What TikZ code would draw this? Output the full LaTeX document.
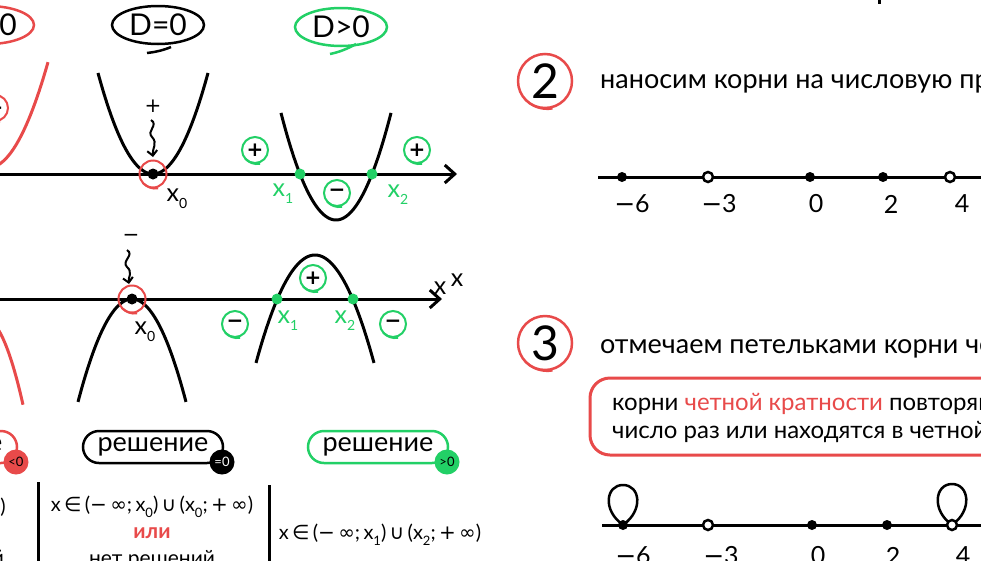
\documentclass[tikz,border=0pt]{standalone}
\usepackage{fontspec}
\setmainfont{Lato}
\newfontfamily\sym{DejaVu Sans}
\usetikzlibrary{arrows.meta,shapes.misc,shapes.geometric}
\definecolor{rd}{RGB}{232,74,74}
\definecolor{gn}{RGB}{34,208,102}
\newcommand\fs[1]{\fontsize{#1}{#1}\selectfont}
\newcommand\mysub[1]{\raisebox{-0.28em}{\fontsize{14}{14}\selectfont #1}}
\newcommand\isub[1]{\raisebox{-0.28em}{\fontsize{13}{13}\selectfont #1}}
\newcommand\tailof[3]{\draw[#3,line width=2pt] (#1.center) ++(140:#2) arc[start angle=140,end angle=80,radius=#2+3];}
\begin{document}
\begin{tikzpicture}[x=1pt,y=-1pt,
  axis/.style={line width=3pt,-{Straight Barb[length=10pt,width=18pt]}},
  crv/.style={line width=3pt},
  nline/.style={line width=3pt},
  bdot/.style={circle,fill=black,inner sep=0pt,minimum size=11pt},
  gdot/.style={circle,fill=gn,inner sep=0pt,minimum size=11pt},
  sdot/.style={circle,fill=black,inner sep=0pt,minimum size=10pt},
  odot/.style={circle,draw=black,fill=white,line width=2.5pt,inner sep=0pt,minimum size=10pt},
  sgn/.style={circle,draw,line width=2pt,minimum size=26pt,inner sep=0pt,font=\sym\bfseries\fs{20}},
  ring/.style={circle,draw=rd,line width=2pt,minimum size=27pt,inner sep=0pt},
  lbl/.style={inner sep=0pt,font=\fs{25}},
  dlab/.style={ellipse,line width=2.5pt,minimum width=92pt,minimum height=38pt,inner sep=0pt,font=\fs{30}},
  numc/.style={circle,draw=rd,line width=2.5pt,minimum size=54pt,inner sep=0pt,font=\fs{48}},
  head/.style={anchor=base west,inner sep=0pt,font=\fs{27}},
  btxt/.style={anchor=base west,inner sep=0pt,font=\fs{24}},
  nlab/.style={inner sep=0pt,font=\fs{25}},
  pill/.style={rounded rectangle,line width=2.5pt,minimum width=140pt,minimum height=32pt,inner sep=0pt,font=\fs{27}},
  badge/.style={circle,minimum size=25pt,inner sep=0pt,font=\fs{13}},
  ivl/.style={inner sep=0pt,font=\fs{20}},
  sep/.style={line width=3pt},
  wavy/.style={line width=2pt,-{Straight Barb[length=5pt,width=10pt]}},
  loopst/.style={line width=2.5pt}
]
\useasboundingbox (0,0) rectangle (981,560);
\fill[white] (0,0) rectangle (981,560);
\begin{scope}
\clip (0,0) rectangle (981,560);

% ---------- D labels ----------
\node[dlab,draw=rd] (dneg) at (-12,25) {D<0};
\node[dlab,draw=black] (dzero) at (158,25) {D=0};
\draw[line width=2.5pt] (147,53) .. controls (156,52) and (164,50) .. (171,47);
\node[dlab,draw=gn] (dpos) at (341,27) {D>0};
\draw[gn,line width=2.5pt] (330,54) .. controls (340,52) and (349,48) .. (356,44);

% ---------- upper axis ----------
\coordinate (a1s) at (-5,174);
\coordinate (a1e) at (457,174);
\draw[axis] (a1s) -- (a1e);

% red parabola (D<0, up)
\draw[rd,crv] plot[domain=-80:48,samples=60] (\x,{168-0.0294*(\x+12)*(\x+12)});
\node[sgn,draw=rd] (rp1) at (-5,108) {+};
\tailof{rp1}{13}{rd}

% black parabola (D=0, up)
\draw[crv] plot[domain=98:208,samples=60] (\x,{174-0.0334*(\x-153)*(\x-153)});
\node[ring] (rc1) at (153,174) {};
\tailof{rc1}{13.5}{rd}
\node[bdot] (x0u) at (153,174) {};
\node[lbl] (x0ul) at (177,199) {x\mysub{0}};
\node[inner sep=0pt,font=\sym\fs{20}] (plus1) at (153,106) {+};
\coordinate (w1s) at (151,120);
\coordinate (w1e) at (153,157);
\draw[wavy] (w1s) .. controls (159,125) and (146,131) .. (152,137) .. controls (158,143) and (152,149) .. (w1e);

% green parabola (D>0, up)
\draw[crv] plot[domain=281:391,samples=60] (\x,{220-0.0354*(\x-336)*(\x-336)});
\node[gdot] (x1u) at (300,174) {};
\node[gdot] (x2u) at (372,174) {};
\node[lbl,text=gn] (x1ul) at (283,194) {x\mysub{1}};
\node[lbl,text=gn] (x2ul) at (398,195) {x\mysub{2}};
\node[sgn,draw=gn] (gp1) at (255,150) {+};
\tailof{gp1}{13}{gn}
\node[sgn,draw=gn] (gp2) at (417,150) {+};
\tailof{gp2}{13}{gn}
\node[sgn,draw=gn] (gm1) at (337,193) {−};
\tailof{gm1}{13}{gn}

% ---------- lower axis ----------
\coordinate (a2s) at (-5,299);
\coordinate (a2e) at (442,299);
\draw[axis] (a2s) -- (a2e);
\node[lbl] (xa) at (440,288) {x};
\node[lbl] (xb) at (457,280) {x};

% red parabola (D<0, down)
\draw[rd,crv] plot[domain=-60:23,samples=60] (\x,{318+0.057*(\x+16)*(\x+16)});

% black parabola (D=0, down)
\draw[crv] plot[domain=78:186,samples=60] (\x,{299+0.0353*(\x-132)*(\x-132)});
\node[ring] (rc2) at (132,299) {};
\tailof{rc2}{13.5}{rd}
\node[bdot] (x0d) at (132,299) {};
\node[lbl] (x0dl) at (145,332) {x\mysub{0}};
\node[inner sep=0pt,font=\sym\fs{20}] (minus1) at (131,238) {−};
\coordinate (w2s) at (127,250);
\coordinate (w2e) at (129,284);
\draw[wavy] (w2s) .. controls (135,255) and (121,261) .. (127,267) .. controls (133,272) and (128,278) .. (w2e);

% green parabola (D>0, down)
\draw[crv] plot[domain=256:374,samples=60] (\x,{255+0.031*(\x-315)*(\x-315)});
\node[gdot] (x1d) at (277,299) {};
\node[gdot] (x2d) at (353,299) {};
\node[lbl,text=gn] (x1dl) at (288,321) {x\mysub{1}};
\node[lbl,text=gn] (x2dl) at (345,321) {x\mysub{2}};
\node[sgn,draw=gn] (gp3) at (313,278) {+};
\tailof{gp3}{13}{gn}
\node[sgn,draw=gn] (gm2) at (235,324) {−};
\tailof{gm2}{13}{gn}
\node[sgn,draw=gn] (gm3) at (393,324) {−};
\tailof{gm3}{13}{gn}

% ---------- pills ----------
\node[pill,draw=rd] (pr) at (-53,447) {решение};
\node[badge,fill=rd,text=black] (br) at (16,462) {<0};
\node[pill,draw=black] (pb) at (153,447) {решение};
\node[badge,fill=black,text=white] (bb) at (222,462) {=0};
\node[pill,draw=gn] (pg) at (378,447) {решение};
\node[badge,fill=gn,text=black] (bg) at (447,462) {>0};

% separators
\coordinate (s1t) at (38,482); \coordinate (s1b) at (38,575);
\coordinate (s2t) at (269,485); \coordinate (s2b) at (269,575);
\draw[sep] (s1t) -- (s1b);
\draw[sep] (s2t) -- (s2b);

% interval texts
\node[ivl,anchor=east] (lt1) at (6,507) {x\,{\sym∈}\,(\,{\sym−}\,{\sym∞};\,{\sym+}\,{\sym∞}\,)};
\node[ivl,anchor=east] (lt2) at (4,559) {нет решений};
\node[ivl] (mt1) at (152,507) {x\,{\sym∈}\,({\sym−}\,{\sym∞};\,x\isub{0})\,{\sym∪}\,(x\isub{0};\,{\sym+}\,{\sym∞})};
\node[ivl,text=rd,font=\bfseries\fs{21}] (mt2) at (152,533) {или};
\node[ivl,font=\fs{21}] (mt3) at (152,560) {нет решений};
\node[ivl] (rt1) at (380,535) {x\,{\sym∈}\,({\sym−}\,{\sym∞};\,x\isub{1})\,{\sym∪}\,(x\isub{2};\,{\sym+}\,{\sym∞})};

% ---------- right side ----------
\fill (877.5,0) rectangle (880.5,3.5);

% step 2
\node[numc] (c2) at (545,81) {2};
\tailof{c2}{27}{rd}
\node[head] (h2) at (600,88) {наносим корни на числовую прямую};
\coordinate (l2s) at (598,177);
\coordinate (l2e) at (995,177);
\draw[nline] (l2s) -- (l2e);
\node[sdot] (p2a) at (622,177) {};
\node[odot] (p2b) at (708,177) {};
\node[sdot] (p2c) at (810,177) {};
\node[sdot] (p2d) at (883,177) {};
\node[odot] (p2e) at (950,177) {};
\node[nlab] (t2a) at (632,204) {{\sym−}6};
\node[nlab] (t2b) at (719,204) {{\sym−}3};
\node[nlab] (t2c) at (816,204) {0};
\node[nlab] (t2d) at (891,204) {2};
\node[nlab] (t2e) at (962,204) {4};

% step 3
\node[numc] (c3) at (545,343) {3};
\tailof{c3}{27}{rd}
\node[head] (h3) at (600,353) {отмечаем петельками корни четной кратности};
\draw[rd,line width=3pt,rounded corners=20pt] (590,378) rectangle (1200,455);
\node[btxt] (b1) at (612,410) {корни \textcolor{rd}{четной кратности} повторяются четное};
\node[btxt] (b2) at (612,438) {число раз или находятся в четной степени};
\coordinate (l3s) at (602,525);
\coordinate (l3e) at (995,525);
\draw[nline] (l3s) -- (l3e);
\draw[loopst] (623,525) .. controls (602,510) and (606,485) .. (623,485) .. controls (640,485) and (644,510) .. (623,525);
\draw[loopst] (952,525) .. controls (931,510) and (935,484) .. (952,484) .. controls (969,484) and (973,510) .. (952,525);
\node[sdot] (p3a) at (623,525) {};
\node[odot] (p3b) at (708,525) {};
\node[sdot] (p3c) at (812,525) {};
\node[sdot] (p3d) at (887,525) {};
\node[odot] (p3e) at (952,525) {};
\node[nlab] (t3a) at (633,556) {{\sym−}6};
\node[nlab] (t3b) at (721,556) {{\sym−}3};
\node[nlab] (t3c) at (818,556) {0};
\node[nlab] (t3d) at (893,556) {2};
\node[nlab] (t3e) at (963,556) {4};
\end{scope}
\end{tikzpicture}
\end{document}
